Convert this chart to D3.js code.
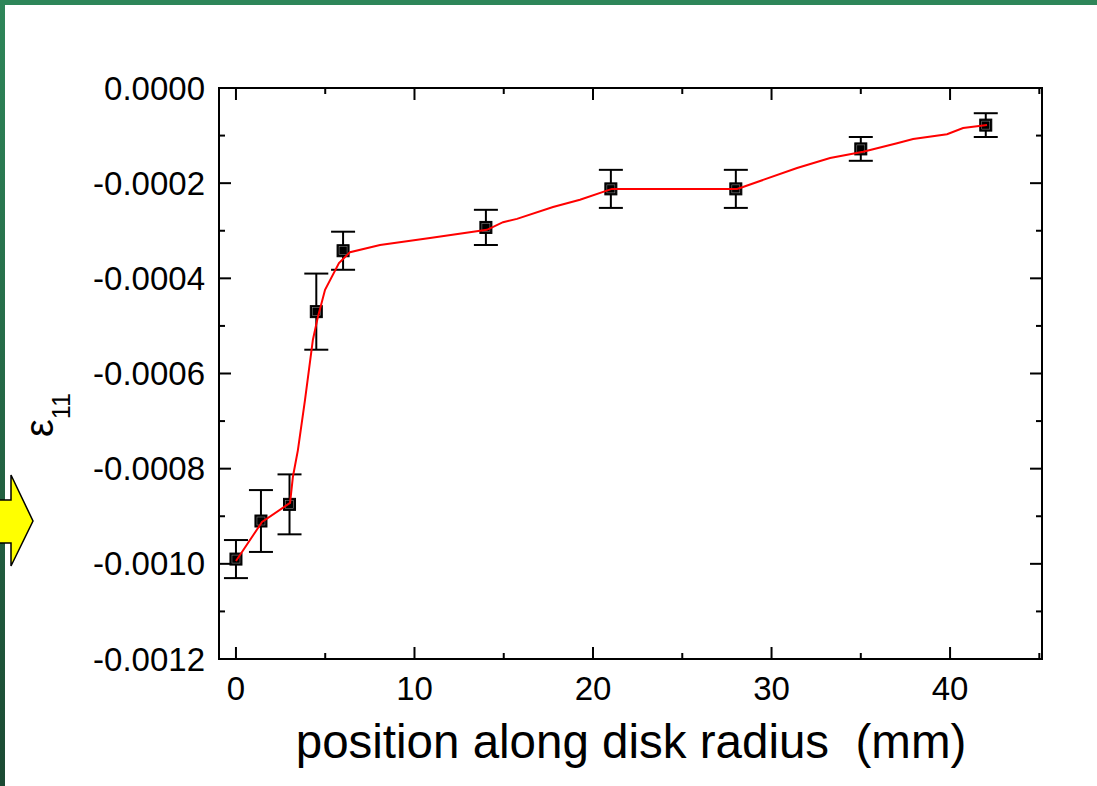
<!DOCTYPE html>
<html>
<head>
<meta charset="utf-8">
<script src="https://cdn.jsdelivr.net/npm/d3@7"></script>
<style>
  html, body { margin: 0; padding: 0; background: #fff; }
  svg { display: block; }
  text { font-family: "Liberation Sans", Arial, sans-serif; fill: #000; white-space: pre; }
</style>
</head>
<body>
<svg id="chart" width="1097" height="786"></svg>
<script>
// Measured strain at positions along the disk radius (mm)
const positions = [0, 1.4, 3.0, 4.5, 6.0, 14, 21, 28, 35, 42];
const strain    = [-0.00099, -0.00091, -0.000875, -0.00047, -0.000342, -0.000293, -0.000212, -0.000212, -0.000128, -0.000078];
const strainErr = [0.00004, 0.000065, 0.000063, 0.00008, 0.00004, 0.000037, 0.00004, 0.00004, 0.000025, 0.000025];

// Fitted curve through the measurements
const fitX = [0, 1.46, 3.03, 3.19, 3.47, 3.87, 4.09, 4.31, 4.59, 4.99, 5.77, 6.39, 8.07, 10.87, 14.06, 14.96, 15.74, 17.76, 19.27, 21.06, 28.07, 28.40, 31.43, 33.28, 35.13, 37.03, 37.93, 39.83, 40.73, 42.07];
const fitY = [-0.000994, -0.000912, -0.000872, -0.000817, -0.000761, -0.000655, -0.000592, -0.000529, -0.000481, -0.000424, -0.000368, -0.000345, -0.000330, -0.000315, -0.000298, -0.000282, -0.000275, -0.000250, -0.000235, -0.000212, -0.000212, -0.000208, -0.000168, -0.000147, -0.000134, -0.000116, -0.000107, -0.000097, -0.000084, -0.000078];

// Axis ticks
const xMajor = [0, 10, 20, 30, 40];
const xMinor = [5, 15, 25, 35, 45];
const yMajor = [0, -0.0002, -0.0004, -0.0006, -0.0008, -0.0010, -0.0012];
const yMinor = [-0.0001, -0.0003, -0.0005, -0.0007, -0.0009, -0.0011];
const yTickLabels = ["0.0000", "-0.0002", "-0.0004", "-0.0006", "-0.0008", "-0.0010", "-0.0012"];

const svg = d3.select("#chart");
const L = 219, R = 1042, T = 88, B = 659;

const x = d3.scaleLinear().domain([-0.95, 45.15]).range([L, R]);
const y = d3.scaleLinear().domain([-0.0012, 0]).range([B, T]);

// Slide frame: green bands on top and left
const defs = svg.append("defs");
const grad = defs.append("linearGradient").attr("id", "leftBand")
  .attr("x1", 0).attr("y1", 0).attr("x2", 0).attr("y2", 1);
grad.append("stop").attr("offset", "0%").attr("stop-color", "#2e8659");
grad.append("stop").attr("offset", "100%").attr("stop-color", "#1b4a33");
svg.append("rect").attr("x", 0).attr("y", 0).attr("width", 1097).attr("height", 5).attr("fill", "#2e8659");
svg.append("rect").attr("x", 0).attr("y", 0).attr("width", 5).attr("height", 786).attr("fill", "url(#leftBand)");

// Yellow pointer arrow on the left edge
svg.append("path")
  .attr("d", "M-3,500 L11,500 L11,475 L33,521 L11,566 L11,543 L-3,543 Z")
  .attr("fill", "#ffff00").attr("stroke", "#000").attr("stroke-width", 1.5)
  .attr("stroke-linejoin", "miter");

// Plot frame
svg.append("rect").attr("x", L).attr("y", T).attr("width", R - L).attr("height", B - T)
  .attr("fill", "none").attr("stroke", "#000").attr("stroke-width", 2);

// Inward ticks on all four sides
const major = 12, minor = 6;
const tickG = svg.append("g").attr("stroke", "#000").attr("stroke-width", 2);
function xTicks(vals, len) {
  vals.filter(v => x(v) <= R).forEach(v => {
    tickG.append("line").attr("x1", x(v)).attr("x2", x(v)).attr("y1", B).attr("y2", B - len);
    tickG.append("line").attr("x1", x(v)).attr("x2", x(v)).attr("y1", T).attr("y2", T + len);
  });
}
function yTicks(vals, len) {
  vals.forEach(v => {
    tickG.append("line").attr("x1", L).attr("x2", L + len).attr("y1", y(v)).attr("y2", y(v));
    tickG.append("line").attr("x1", R).attr("x2", R - len).attr("y1", y(v)).attr("y2", y(v));
  });
}
xTicks(xMajor, major); xTicks(xMinor, minor);
yTicks(yMajor, major); yTicks(yMinor, minor);

// Tick labels
svg.append("g").selectAll("text").data(yMajor).join("text")
  .attr("x", 205).attr("y", d => y(d)).attr("dy", "0.35em")
  .attr("text-anchor", "end").attr("font-size", 33)
  .text((d, i) => yTickLabels[i]);
svg.append("g").selectAll("text").data(xMajor).join("text")
  .attr("x", d => x(d)).attr("y", 700)
  .attr("text-anchor", "middle").attr("font-size", 33)
  .text(d => d);

// Axis titles
svg.append("text").attr("x", 631).attr("y", 758).attr("text-anchor", "middle")
  .attr("xml:space", "preserve")
  .attr("font-size", 47.5).text("position along disk radius  (mm)");
const yt = svg.append("text").attr("transform", "translate(53,437) rotate(-90)");
yt.append("tspan").attr("font-size", 40).text("ε");
yt.append("tspan").attr("font-size", 25).attr("dy", 17).text("11");

// Error bars
const pts = positions.map((p, i) => ({ x: p, y: strain[i], e: strainErr[i] }));
const eb = svg.append("g").attr("stroke", "#000").attr("stroke-width", 2);
pts.forEach(d => {
  const cx = x(d.x), y1 = y(d.y + d.e), y2 = y(d.y - d.e);
  eb.append("line").attr("x1", cx).attr("x2", cx).attr("y1", y1).attr("y2", y2);
  eb.append("line").attr("x1", cx - 12).attr("x2", cx + 12).attr("y1", y1).attr("y2", y1);
  eb.append("line").attr("x1", cx - 12).attr("x2", cx + 12).attr("y1", y2).attr("y2", y2);
});

// Square markers
const mk = svg.append("g");
pts.forEach(d => {
  const cx = x(d.x), cy = y(d.y);
  mk.append("rect").attr("x", cx - 6).attr("y", cy - 6).attr("width", 12).attr("height", 12)
    .attr("fill", "#000").attr("stroke", "#000").attr("stroke-width", 1);
  mk.append("rect").attr("x", cx - 4).attr("y", cy - 4).attr("width", 8).attr("height", 8)
    .attr("fill", "#000").attr("stroke", "#9a9a9a").attr("stroke-width", 0.5);
});

// Fit curve
const fit = fitX.map((v, i) => [v, fitY[i]]);
svg.append("path").datum(fit)
  .attr("d", d3.line().x(d => x(d[0])).y(d => y(d[1])))
  .attr("fill", "none").attr("stroke", "#ff0000").attr("stroke-width", 2);
</script>
</body>
</html>
